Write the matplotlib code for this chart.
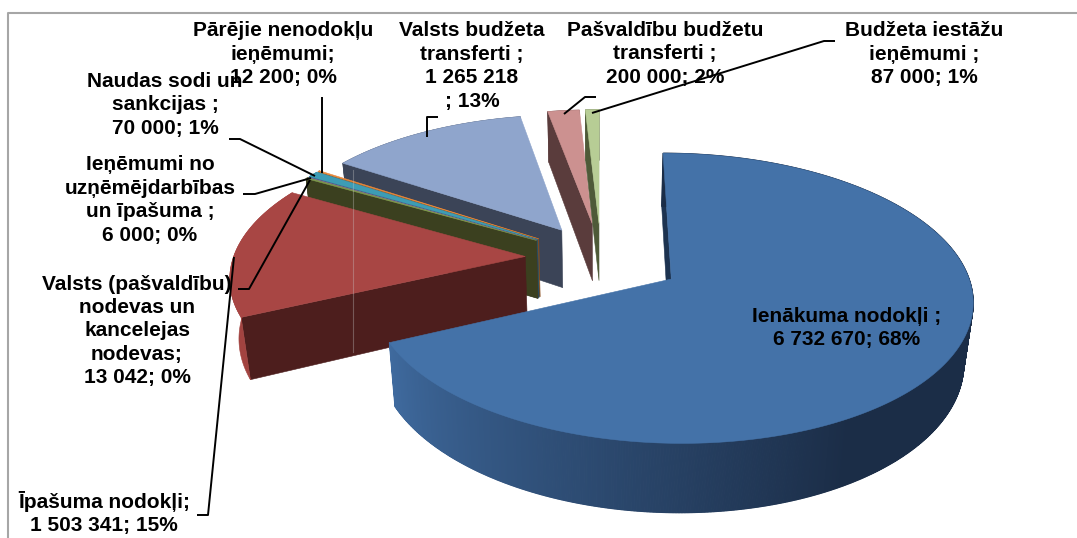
import numpy as np
import matplotlib
matplotlib.use("Agg")
import matplotlib.pyplot as plt
from matplotlib.colors import to_rgb

names = ["Ienākuma nodokļi", "Īpašuma nodokļi", "Valsts (pašvaldību) nodevas un kancelejas nodevas",
         "Ieņēmumi no uzņēmējdarbības un īpašuma", "Naudas sodi un sankcijas",
         "Pārējie nenodokļu ieņēmumi", "Valsts budžeta transferti",
         "Pašvaldību budžetu transferti", "Budžeta iestāžu ieņēmumi"]
values = [6732670, 1503341, 13042, 6000, 70000, 12200, 1265218, 200000, 87000]
top_colors = ["#4472a8", "#a84644", "#7f9a4a", "#7a62a0", "#3d9cb5", "#e8883a", "#8fa5cc", "#cc9190", "#b7cd95"]
wall_colors = ["#1d3350", "#4d1e1d", "#3b401f", "#3b3358", "#1f5666", "#8a4d1c", "#3b4457", "#5a3c3c", "#4e5a38"]
explode = [0.28, 0.26, 0.26, 0.26, 0.26, 0.26, 0.25, 0.26, 0.26]
labels = ["Ienākuma nodokļi ;\n6 732 670; 68%", "Īpašuma nodokļi;\n1 503 341; 15%",
          "Valsts (pašvaldību)\nnodevas un\nkancelejas\nnodevas;\n13 042; 0%",
          "Ieņēmumi no\nuzņēmējdarbības\nun īpašuma ;\n6 000; 0%", "Naudas sodi un\nsankcijas ;\n70 000; 1%",
          "Pārējie nenodokļu\nieņēmumi;\n12 200; 0%", "Valsts budžeta\ntransferti ;\n1 265 218\n; 13%",
          "Pašvaldību budžetu\ntransferti ;\n200 000; 2%", "Budžeta iestāžu\nieņēmumi ;\n87 000; 1%"]
label_xy = [(847, 328), (104, 513), (137, 331), (150, 200), (165, 105), (283, 54), (472, 66), (665, 54), (924, 54)]
leaders = [None,
           [(197, 515), (208, 515), (234, 257)],
           [(238, 289), (249, 289), (310, 180)],
           [(243, 194), (255, 194), (311, 178)],
           [(229, 139), (240, 139), (315, 176)],
           [(322, 97), (322, 173)],
           [(438, 117), (427, 117), (427, 137)],
           [(596, 97), (585, 97), (564, 114)],
           [(835, 41), (824, 41), (592, 113)]]

CX, CY = 601, 258
A, C, K, M, H = 292, 137, 0.13, 0.025, 59


def project(u, v, bottom=False):
    u, v = np.asarray(u, float), np.asarray(v, float)
    w = 1 + K * v
    if bottom:
        return CX + A * u / (w + M), CY - (C * v - H) / w
    return CX + A * u / w, CY - C * v / w


plt.rcParams["font.family"] = ["Liberation Sans", "DejaVu Sans"]
fig = plt.figure(figsize=(10.77, 5.38), dpi=100, facecolor="white")
ax = fig.add_axes([0, 0, 1, 1])
ax.set_xlim(0, 1077)
ax.set_ylim(538, 0)
ax.axis("off")

ax.plot([7.5, 7.5, 1077], [538, 12.5, 12.5], color="#a6a6a6", lw=1.5, zorder=0)

total = sum(values)
edges = np.concatenate([[0], np.cumsum(values)]) / total * 360
order = [6, 7, 8, 5, 4, 3, 2, 1, 0]


def poly(xs, ys, color, z, lw=0.4):
    ax.fill(xs, ys, facecolor=color, edgecolor=color, lw=lw, zorder=z)


z = 1
for i in order:
    t0, t1 = np.radians(edges[i]), np.radians(edges[i + 1])
    mid = (t0 + t1) / 2
    ou, ov = explode[i] * np.sin(mid), explode[i] * np.cos(mid)
    th = np.linspace(t0, t1, max(int(np.degrees(t1 - t0)) * 4, 6))
    ru, rv = ou + np.sin(th), ov + np.cos(th)
    # start-edge wall
    wx, wy = project([ou, ru[0]], [ov, rv[0]])
    bx, by = project([ou, ru[0]], [ov, rv[0]], bottom=True)
    poly([wx[0], wx[1], bx[1], bx[0]], [wy[0], wy[1], by[1], by[0]], wall_colors[i], z)
    # outer rim
    tx, ty = project(ru, rv)
    lx, ly = project(ru, rv, bottom=True)
    if i == 0:
        light, dark = np.array(to_rgb("#3f6a9e")), np.array(to_rgb("#1b2d47"))
        for j in range(len(th) - 1):
            f = np.clip((np.degrees(th[j]) - 150) / 95, 0, 1)
            col = tuple(dark + (light - dark) * f)
            poly([tx[j], tx[j + 1], lx[j + 1], lx[j]], [ty[j], ty[j + 1], ly[j + 1], ly[j]], col, z, lw=0.8)
    else:
        rim = "#a24340" if i == 1 else wall_colors[i]
        poly(np.r_[tx, lx[::-1]], np.r_[ty, ly[::-1]], rim, z)
    # top face
    ax.fill(np.r_[project(ou, ov)[0], tx], np.r_[project(ou, ov)[1], ty],
            facecolor=top_colors[i], edgecolor=top_colors[i], lw=0.4, zorder=z + 0.5)
    z += 1

ax.plot([353, 353], [170, 352], color="#c8c8c8", lw=0.8, alpha=0.35, zorder=z)

for pts in leaders:
    if pts:
        xs, ys = zip(*pts)
        ax.plot(xs, ys, color="black", lw=1.4, zorder=z + 1, solid_capstyle="butt")

for txt, (x, y) in zip(labels, label_xy):
    ax.text(x, y, txt, ha="center", va="center", fontsize=15.0, fontweight="bold",
            color="black", linespacing=1.3, zorder=z + 2)

fig.savefig("out.png", dpi=100, facecolor="white")
